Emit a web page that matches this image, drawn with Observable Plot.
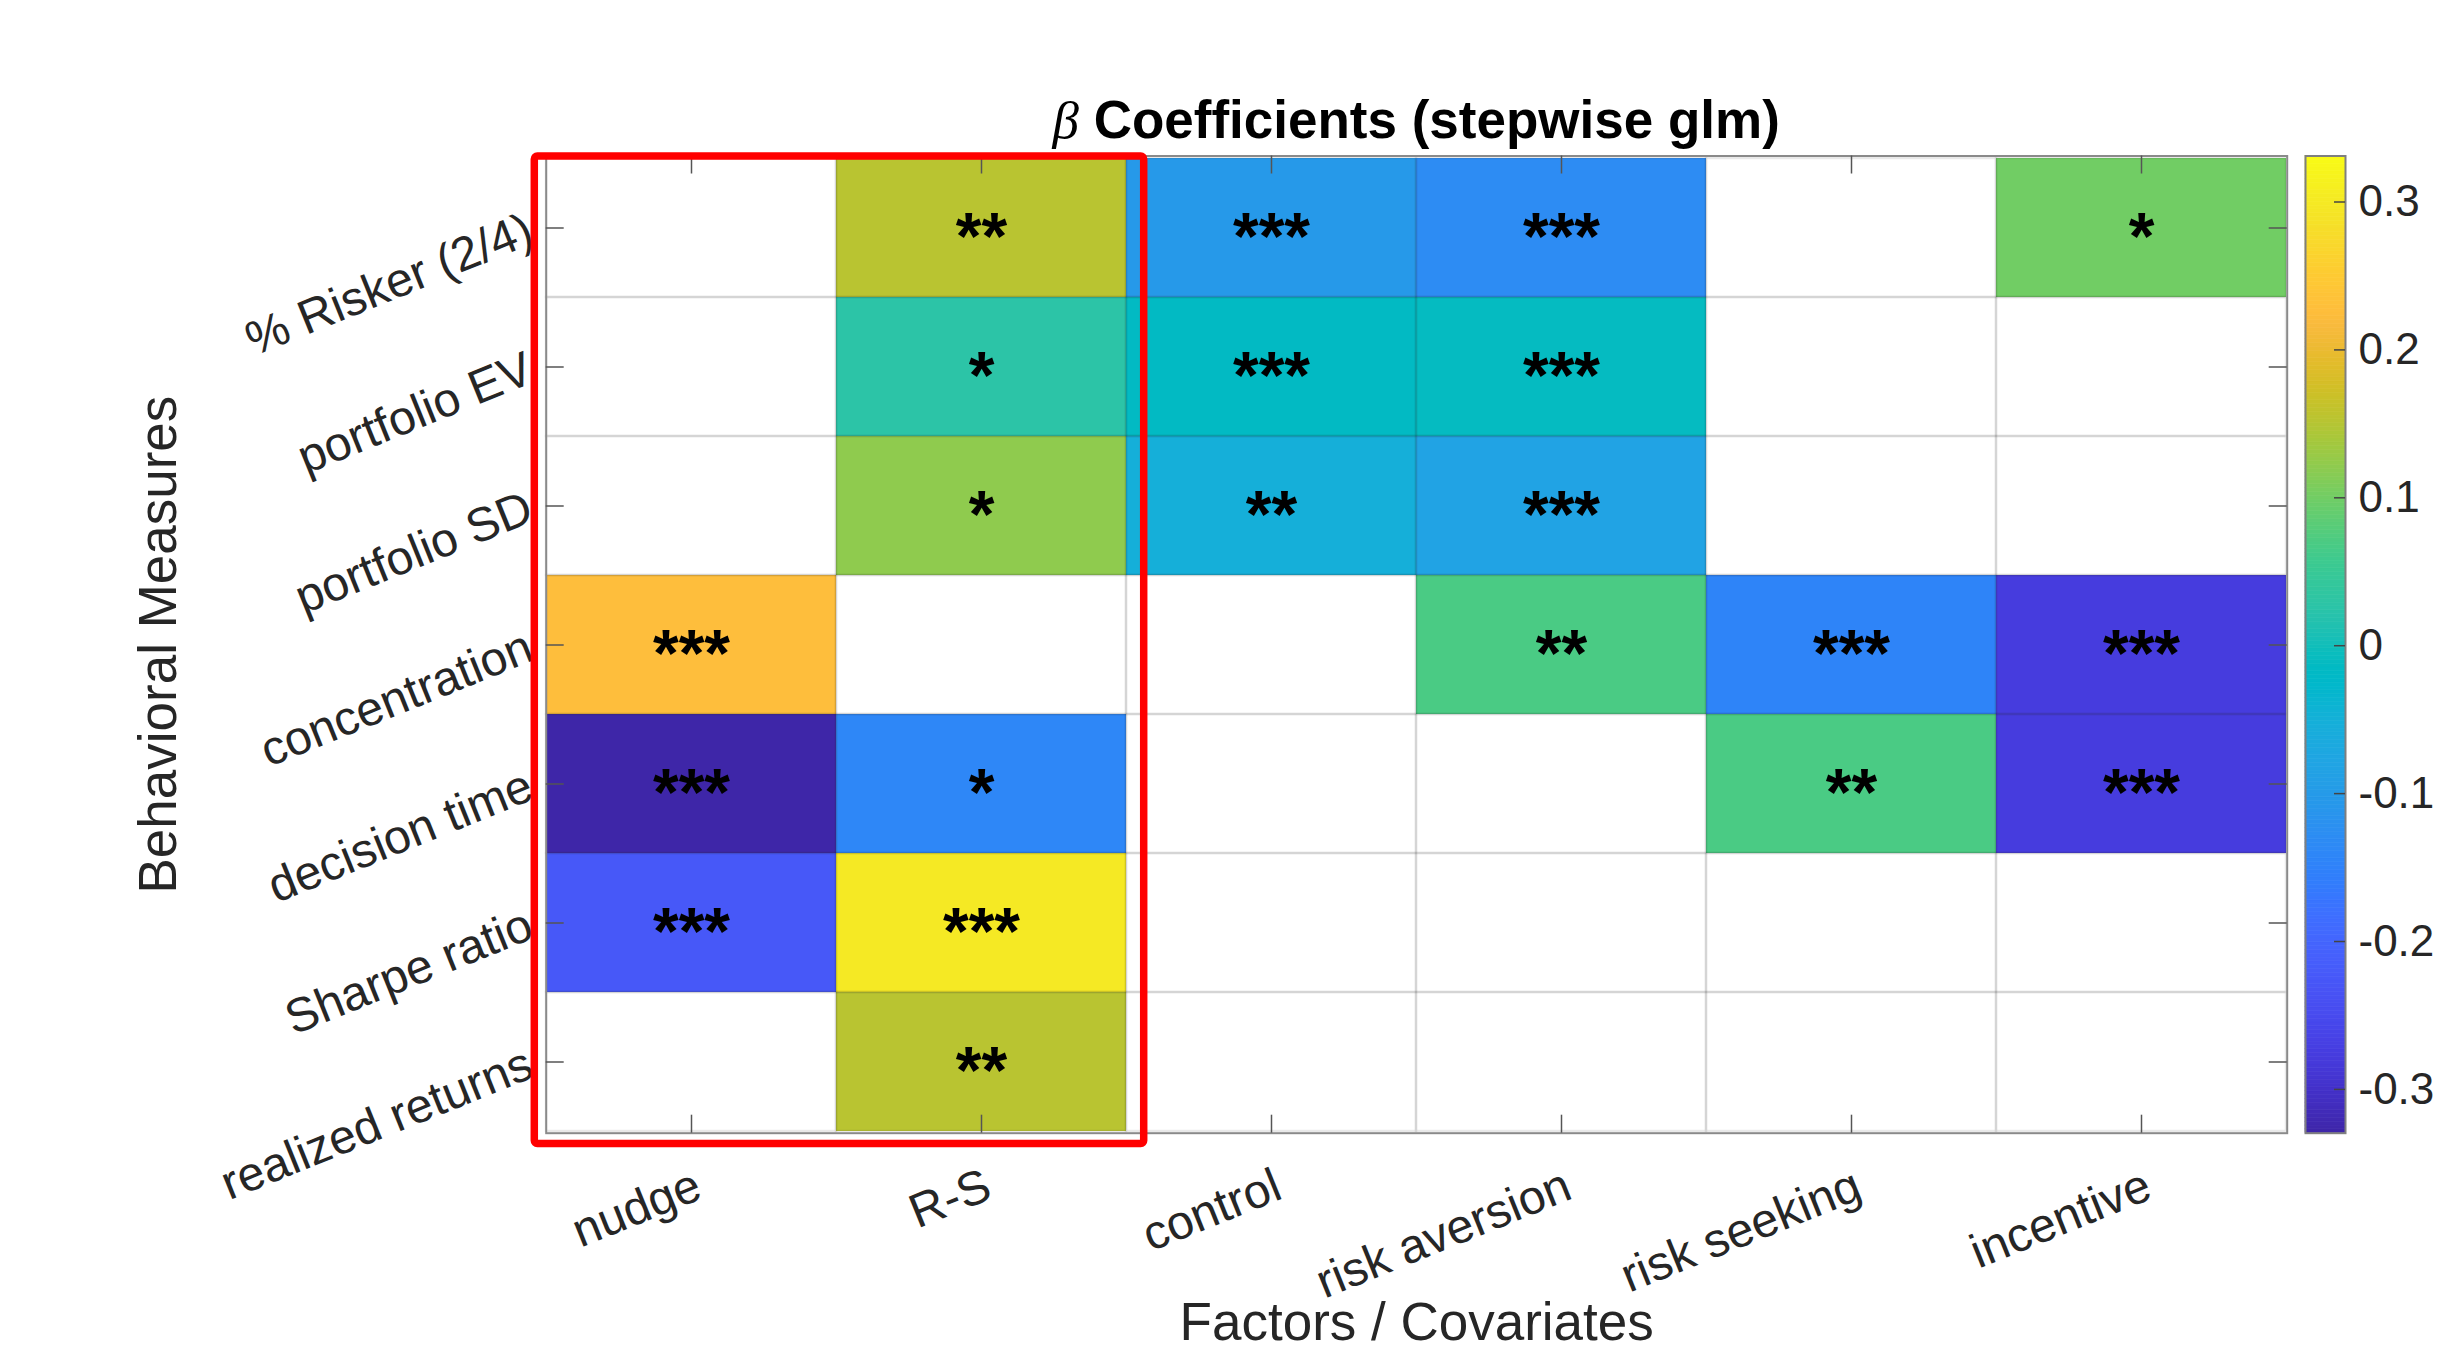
<!DOCTYPE html>
<html><head><meta charset="utf-8">
<script src="https://cdn.jsdelivr.net/npm/d3@7"></script>
<script src="https://cdn.jsdelivr.net/npm/@observablehq/plot@0.6"></script>
<style>
html,body{margin:0;padding:0;background:#fff;}
#wrap{position:relative;width:2459px;height:1356px;overflow:hidden;font-family:"Liberation Sans",Arial,Helvetica,sans-serif;}
#title{position:absolute;left:545.7px;width:1741px;top:93px;text-align:center;font-size:53px;line-height:53px;font-weight:bold;color:#000;white-space:nowrap;}
#title .beta{font-family:"Liberation Serif","DejaVu Serif",serif;font-style:italic;font-weight:normal;}
.plot{position:absolute;top:0;}
</style></head>
<body><div id="wrap"><div id="title"><span class="beta">β</span> Coefficients (stepwise glm)</div></div>
<script>
// ---- data ----
const measures = ["% Risker (2/4)", "portfolio EV", "portfolio SD", "concentration", "decision time", "Sharpe ratio", "realized returns"];
const factors = ["nudge", "R-S", "control", "risk aversion", "risk seeking", "incentive"];
const highlighted = ["nudge", "R-S"];

// beta coefficients per factor (in the order of measures); null = not retained
const betaNudge        = [null, null, null, 0.226, -0.3296, -0.225, null];
const betaRS           = [0.153, 0.027, 0.121, null, -0.141, 0.300, 0.153];
const betaControl      = [-0.104, -0.015, -0.052, null, null, null, null];
const betaRiskAversion = [-0.130, -0.012, -0.083, 0.069, null, null, null];
const betaRiskSeeking  = [null, null, null, -0.146, 0.069, null, null];
const betaIncentive    = [0.100, null, null, -0.277, -0.277, null, null];

// significance stars per factor
const starsNudge        = ["", "", "", "***", "***", "***", ""];
const starsRS           = ["**", "*", "*", "", "*", "***", "**"];
const starsControl      = ["***", "***", "**", "", "", "", ""];
const starsRiskAversion = ["***", "***", "***", "**", "", "", ""];
const starsRiskSeeking  = ["", "", "", "***", "**", "", ""];
const starsIncentive    = ["*", "", "", "***", "***", "", ""];

const colorLimits = [-0.3296, 0.3311];
const cbarTicks = [-0.3, -0.2, -0.1, 0, 0.1, 0.2, 0.3];
const cbarLabels = ["-0.3", "-0.2", "-0.1", "0", "0.1", "0.2", "0.3"];

// MATLAB parula colormap (64 entries)
const parula = [
[0.2422,0.1504,0.6603],[0.2504,0.1650,0.7076],[0.2578,0.1818,0.7511],[0.2647,0.1978,0.7952],
[0.2706,0.2147,0.8364],[0.2751,0.2342,0.8710],[0.2783,0.2559,0.8991],[0.2803,0.2782,0.9221],
[0.2813,0.3006,0.9414],[0.2810,0.3228,0.9579],[0.2795,0.3447,0.9717],[0.2760,0.3667,0.9829],
[0.2699,0.3892,0.9906],[0.2602,0.4123,0.9952],[0.2440,0.4358,0.9988],[0.2206,0.4603,0.9973],
[0.1963,0.4847,0.9892],[0.1834,0.5074,0.9798],[0.1786,0.5289,0.9682],[0.1764,0.5499,0.9520],
[0.1687,0.5703,0.9359],[0.1540,0.5902,0.9218],[0.1460,0.6091,0.9079],[0.1380,0.6276,0.8973],
[0.1248,0.6459,0.8883],[0.1113,0.6635,0.8763],[0.0952,0.6798,0.8598],[0.0689,0.6948,0.8394],
[0.0297,0.7082,0.8163],[0.0036,0.7203,0.7917],[0.0067,0.7312,0.7660],[0.0433,0.7411,0.7394],
[0.0964,0.7500,0.7120],[0.1408,0.7584,0.6842],[0.1717,0.7670,0.6554],[0.1938,0.7758,0.6251],
[0.2161,0.7843,0.5923],[0.2470,0.7918,0.5567],[0.2906,0.7973,0.5188],[0.3406,0.8008,0.4789],
[0.3909,0.8029,0.4354],[0.4456,0.8024,0.3909],[0.5044,0.7993,0.3480],[0.5616,0.7942,0.3045],
[0.6174,0.7876,0.2612],[0.6720,0.7793,0.2227],[0.7242,0.7698,0.1910],[0.7738,0.7598,0.1646],
[0.8203,0.7498,0.1535],[0.8634,0.7406,0.1596],[0.9035,0.7330,0.1774],[0.9393,0.7288,0.2100],
[0.9728,0.7298,0.2394],[0.9956,0.7434,0.2371],[0.9970,0.7659,0.2199],[0.9952,0.7893,0.2028],
[0.9892,0.8136,0.1885],[0.9786,0.8386,0.1766],[0.9676,0.8639,0.1643],[0.9610,0.8890,0.1537],
[0.9597,0.9135,0.1423],[0.9628,0.9373,0.1265],[0.9691,0.9606,0.1064],[0.9769,0.9839,0.0805]];

// ---- build table ----
const betas = [betaNudge, betaRS, betaControl, betaRiskAversion, betaRiskSeeking, betaIncentive];
const stars = [starsNudge, starsRS, starsControl, starsRiskAversion, starsRiskSeeking, starsIncentive];
const cells = [];
factors.forEach((f, j) => measures.forEach((m, i) => cells.push({factor: f, measure: m, beta: betas[j][i], stars: stars[j][i]})));
const colored = cells.filter(d => d.beta != null);
const starred = cells.filter(d => d.stars);

const parulaInterp = d3.piecewise(d3.interpolateRgb, parula.map(c => d3.rgb(c[0]*255, c[1]*255, c[2]*255).toString()));
const colorSpec = {type: "linear", domain: colorLimits, interpolate: parulaInterp};

// ---- layout ----
const W = 2459, H = 1356;
const M = {top: 155.5, right: 172.3, bottom: 223.3, left: 545.7};
const plotW = W - M.left - M.right, plotH = H - M.top - M.bottom;
const tickLen = 18;
const font = '"Liberation Sans", Arial, Helvetica, sans-serif';
const ink = "#262626";

const main = Plot.plot({
  width: W, height: H,
  marginTop: M.top, marginRight: M.right, marginBottom: M.bottom, marginLeft: M.left,
  x: {type: "band", domain: factors, padding: 0, axis: null},
  y: {type: "band", domain: measures, padding: 0, axis: null},
  color: colorSpec,
  style: {fontFamily: font, overflow: "visible", background: "transparent"},
  marks: [
    Plot.cell(colored, {x: "factor", y: "measure", fill: "beta", inset: 0}),
    Plot.cell(cells, {x: "factor", y: "measure", fill: "none", stroke: "#262626", strokeOpacity: 0.1, strokeWidth: 2.5, inset: 0}),
    Plot.frame({stroke: "#8a8a8a", strokeWidth: 2}),
    Plot.tickX(factors, {x: d => d, stroke: "#555", strokeWidth: 1.5, insetTop: plotH - tickLen}),
    Plot.tickX(factors, {x: d => d, stroke: "#555", strokeWidth: 1.5, insetBottom: plotH - tickLen}),
    Plot.tickY(measures, {y: d => d, stroke: "#555", strokeWidth: 1.5, insetRight: plotW - tickLen}),
    Plot.tickY(measures, {y: d => d, stroke: "#555", strokeWidth: 1.5, insetLeft: plotW - tickLen}),
    Plot.text(starred, {x: "factor", y: "measure", text: "stars", fontSize: 66, fontWeight: "bold", fill: "#000", lineAnchor: "middle", dy: 10}),
    Plot.text(factors, {x: d => d, text: d => d, frameAnchor: "bottom", rotate: -22, textAnchor: "end", lineAnchor: "top", dx: 0, dy: 33, fontSize: 48, fill: ink}),
    Plot.text(measures, {y: d => d, text: d => d, frameAnchor: "left", rotate: -22, textAnchor: "end", lineAnchor: "middle", dx: -16, fontSize: 48, fill: ink}),
    Plot.text(["Factors / Covariates"], {text: d => d, frameAnchor: "bottom", textAnchor: "middle", lineAnchor: "middle", dy: 190, fontSize: 53, fill: ink}),
    Plot.text(["Behavioral Measures"], {text: d => d, frameAnchor: "left", textAnchor: "middle", rotate: -90, lineAnchor: "middle", dx: -387, fontSize: 53, fill: ink})
  ]
});
main.classList.add("plot");
main.style.left = "0px";

// red highlight box around the highlighted factor columns
{
  const xs = main.scale("x"), ys = main.scale("y");
  const xa = d3.min(highlighted, f => xs.apply(f)) - 11.7;
  const xb = d3.max(highlighted, f => xs.apply(f)) + xs.bandwidth + 17.7;
  const ya = ys.apply(measures[0]) - 2;
  const yb = ys.apply(measures[measures.length - 1]) + ys.bandwidth + 12.5;
  d3.select(main).append("rect")
    .attr("x", xa).attr("y", ya).attr("width", xb - xa).attr("height", yb - ya)
    .attr("rx", 3).attr("fill", "none").attr("stroke", "#ff0000").attr("stroke-width", 7.5);
}

// colorbar
const cbLeft = 2290, cbMarginLeft = 15, cbBarW = 40, cbW = 169;
const cbSteps = d3.range(256).map(i => [
  colorLimits[0] + (colorLimits[1] - colorLimits[0]) * i / 256,
  colorLimits[0] + (colorLimits[1] - colorLimits[0]) * (i + 1) / 256]);
const cbar = Plot.plot({
  width: cbW, height: H,
  marginTop: M.top, marginBottom: M.bottom, marginLeft: cbMarginLeft, marginRight: cbW - cbMarginLeft - cbBarW,
  y: {domain: colorLimits, axis: null},
  color: colorSpec,
  style: {fontFamily: font, overflow: "visible", background: "transparent"},
  marks: [
    Plot.rect(cbSteps, {y1: d => d[0], y2: d => d[1], fill: d => (d[0] + d[1]) / 2, stroke: d => (d[0] + d[1]) / 2, strokeWidth: 0.6}),
    Plot.frame({stroke: "#7f7f7f", strokeWidth: 2}),
    Plot.tickY(cbarTicks, {y: d => d, stroke: "#444", strokeWidth: 1.5, insetLeft: cbBarW - 11}),
    Plot.text(cbarTicks, {y: d => d, text: (d, i) => cbarLabels[i], frameAnchor: "right", textAnchor: "start", lineAnchor: "middle", dx: 13, fontSize: 44, fill: ink})
  ]
});
cbar.classList.add("plot");
cbar.style.left = cbLeft + "px";

const wrap = document.getElementById("wrap");
wrap.appendChild(main);
wrap.appendChild(cbar);
</script>
</body></html>
